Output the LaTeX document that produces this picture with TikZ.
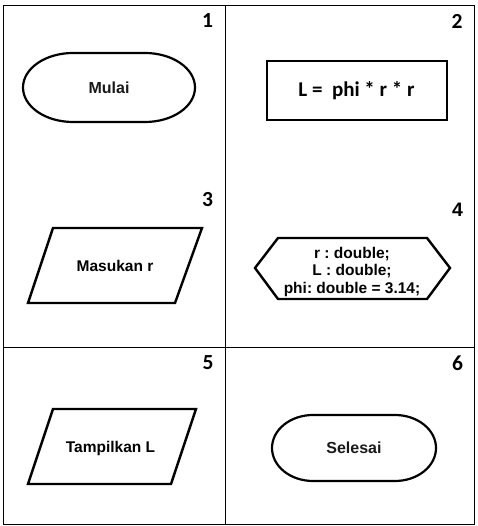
\documentclass[tikz,border=0pt]{standalone}
\usepackage{fontspec}
\setmainfont{Liberation Sans}[BoldFont={Liberation Sans Bold}]
\newfontfamily\calfont{Carlito}[BoldFont={Carlito Bold}]
\frenchspacing
\begin{document}
\begin{tikzpicture}[x=1pt,y=1pt,
  grid/.style={line width=0.9pt,black},
  shapeline/.style={line width=2.4pt,black,line join=miter},
  lbl/.style={inner sep=0pt,font=\fontsize{15.5}{17.5}\selectfont\bfseries\frenchspacing},
  termlbl/.style={inner sep=0pt,text=black!90,font=\fontsize{16}{18}\selectfont\bfseries},
  num/.style={inner sep=0pt,font=\fontsize{21.5}{24}\selectfont\calfont\bfseries},
  numb/.style={inner sep=0pt,font=\fontsize{19.5}{22}\selectfont\bfseries}]
\useasboundingbox (0,0) rectangle (477,526);
% table
\draw[grid] (3.5,2) rectangle (474.5,520.5);
\draw[grid] (225.5,2) -- (225.5,520.5);
\draw[grid] (3.5,179) -- (474.5,179);
% numbers
\node[num]  (n1) at (207.5,505) {1};
\node[num]  (n2) at (457,505) {2};
\node[num]  (n3) at (207.5,326) {3};
\node[numb] (n4) at (457.5,316) {4};
\node[num]  (n5) at (208,163) {5};
\node[num]  (n6) at (457.5,163) {6};
% 1 Mulai
\draw[shapeline,line width=2.2pt] (73,473) -- (145,473)
  arc[start angle=90,end angle=-90,x radius=50,y radius=34.5] -- (73,404)
  arc[start angle=270,end angle=90,x radius=50,y radius=34.5] -- cycle;
\node[termlbl] (mulai) at (109,438.5) {Mulai};
% 2 process
\draw[shapeline,line width=2.8pt] (267,406) rectangle (447,465);
\node[inner sep=0pt,font=\fontsize{21}{24}\selectfont\calfont\bfseries] (proc) at (356.5,435.5) {L =\ \ phi * r * r};
% 3 input
\draw[shapeline] (53,298) -- (202,298) -- (175,223) -- (28,223) -- cycle;
\node[lbl] (input) at (115,260) {Masukan r};
% 4 preparation
\draw[shapeline] (255,258) -- (278,288) -- (427,288) -- (450,258) -- (427,227) -- (278,227) -- cycle;
\node[lbl,align=center] (decl) at (352,254.5) {r : double;\\L : double;\\phi: double = 3.14;};
% 5 output
\draw[shapeline] (53,117) -- (196,117) -- (171,42) -- (28,42) -- cycle;
\node[lbl] (output) at (110.5,78) {Tampilkan L};
% 6 Selesai
\draw[shapeline,line width=2.2pt] (313,111) -- (395,111)
  arc[start angle=90,end angle=-90,x radius=41,y radius=33] -- (313,45)
  arc[start angle=270,end angle=90,x radius=41,y radius=33] -- cycle;
\node[termlbl] (selesai) at (354,78) {Selesai};
\end{tikzpicture}
\end{document}
